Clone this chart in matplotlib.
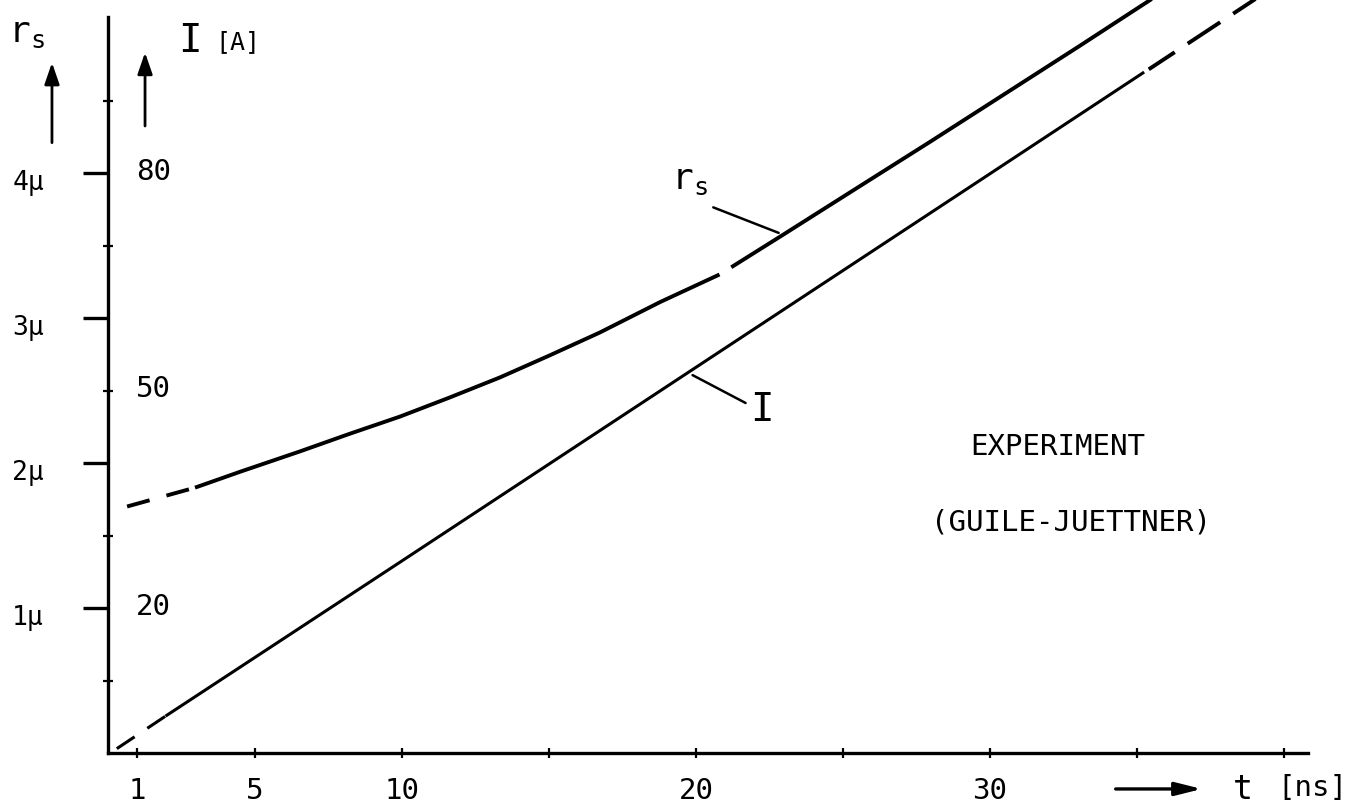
import matplotlib
matplotlib.use('Agg')
import matplotlib.pyplot as plt

# time axis, ns
t_ticks = [1, 5, 10, 15, 20, 25, 30, 35, 40]
t_ticklabels = ['1', '5', '10', '', '20', '', '30', '', '']

# left scale r_s in micrometre, right scale I in ampere (1 um <-> 20 A)
r_major = [1, 2, 3, 4]
r_minor = [0.5, 1.5, 2.5, 3.5, 4.5]
r_labels = ['1\u03bc', '2\u03bc', '3\u03bc', '4\u03bc']
I_ticklabels = [20, 50, 80]

# r_s curve (dashed start, solid, short break, solid)
rs_dash_t = [0.65, 2.96]
rs_dash_r = [1.70, 1.83]
rs_t1 = [2.96, 4.5, 6.53, 8.2, 9.93, 11.6, 13.33, 15.0, 16.73, 18.78, 20.8]
rs_r1 = [1.83, 1.94, 2.08, 2.20, 2.32, 2.45, 2.59, 2.74, 2.90, 3.11, 3.30]
rs_t2 = [21.2, 22.93, 25.58, 28.0, 30.0, 33.0, 35.5]
rs_r2 = [3.35, 3.57, 3.91, 4.22, 4.48, 4.87, 5.20]

# current I
I_dash_t = [0.3, 2.0]
I_dash = [0.6, 5.2]
I_t = [2.0, 10.0, 20.0, 30.0, 35.2]
I_val = [5.2, 26.5, 53.2, 79.9, 93.8]
I_tail_t = [35.4, 40.0]
I_tail = [94.3, 106.6]

FONT = 'DejaVu Sans Mono'
plt.rcParams['font.family'] = FONT

fig = plt.figure(figsize=(13.63, 8.12), dpi=100)
ax = fig.add_axes([0, 0, 1, 1])
ax.set_xlim(-3.673, 42.687)
ax.set_ylim(-0.4, 5.2)
ax2 = ax.twinx()
ax2.set_ylim(-8, 104)
ax2.axis('off')

for s in ['top', 'right']:
    ax.spines[s].set_visible(False)
ax.spines['left'].set_position(('data', 0))
ax.spines['bottom'].set_position(('data', 0))
ax.spines['left'].set_bounds(0, 5.076)
ax.spines['bottom'].set_bounds(0, 40.8)
ax.spines['left'].set_linewidth(2.4)
ax.spines['bottom'].set_linewidth(2.4)

ax.set_xticks(t_ticks)
ax.set_xticklabels([])
ax.tick_params(axis='x', direction='inout', length=7, width=1.6)
ax.set_yticks(r_major)
ax.set_yticklabels([])
ax.set_yticks(r_minor, minor=True)
ax.tick_params(axis='y', which='major', direction='out', length=18, width=2.4)
ax.tick_params(axis='y', which='minor', direction='inout', length=7, width=1.6)

for t, lab in zip(t_ticks, t_ticklabels):
    if lab:
        ax.text(t, -0.255, lab, ha='center', va='center', fontsize=21)
for r, lab in zip(r_major, r_labels):
    ax.text(-2.72, r - 0.06, lab, ha='center', va='center', fontsize=19)
for v in I_ticklabels:
    ax2.text(1.56, v + 0.3, str(v), ha='center', va='center', fontsize=21)

# curves
ax.plot(rs_dash_t, rs_dash_r, color='black', lw=2.8, ls=(0, (6, 4.5)))
ax.plot(rs_t1, rs_r1, color='black', lw=2.8, solid_capstyle='butt')
ax.plot(rs_t2, rs_r2, color='black', lw=2.8, solid_capstyle='butt')
ax2.plot(I_dash_t, I_dash, color='black', lw=2.2, ls=(0, (7, 5)))
ax2.plot(I_t, I_val, color='black', lw=2.2)
ax2.plot(I_tail_t, I_tail, color='black', lw=2.8, ls=(2, (10, 4)))

# curve labels with pointer lines
ax.annotate('', xy=(22.9, 3.58), xytext=(20.5, 3.77),
            arrowprops=dict(arrowstyle='-', lw=1.8, color='black'))
ax.text(19.76, 3.96, r'$\mathregular{r_s}$', ha='center', va='center', fontsize=26)
ax2.annotate('', xy=(19.8, 52.3), xytext=(21.77, 48.1),
             arrowprops=dict(arrowstyle='-', lw=1.8, color='black'))
ax2.text(22.24, 47.4, 'I', ha='center', va='center', fontsize=28)

# axis titles with arrows
head = '-|>,head_length=1.3,head_width=0.45'
ax.annotate('', xy=(-1.905, 4.78), xytext=(-1.905, 4.19),
            arrowprops=dict(arrowstyle=head, lw=2.0, color='black'))
ax.text(-2.76, 4.97, r'$\mathregular{r_s}$', ha='center', va='center', fontsize=26)
ax2.annotate('', xy=(1.26, 97.0), xytext=(1.26, 86.1),
             arrowprops=dict(arrowstyle=head, lw=2.0, color='black'))
ax2.text(2.79, 98.3, 'I', ha='center', va='center', fontsize=28)
ax2.text(4.42, 98.2, '[A]', ha='center', va='center', fontsize=18)

ax.annotate('', xy=(37.3, -0.248), xytext=(34.18, -0.248),
            arrowprops=dict(arrowstyle='-|>,head_length=1.6,head_width=0.4',
                            lw=2.4, color='black'))
ax.text(38.6, -0.245, 't', ha='center', va='center', fontsize=24)
ax.text(40.95, -0.235, '[ns]', ha='center', va='center', fontsize=21)

ax.text(32.31, 2.117, 'EXPERIMENT', ha='center', va='center', fontsize=21)
ax.text(32.76, 1.60, '(GUILE-JUETTNER)', ha='center', va='center', fontsize=21)

fig.savefig('out.png', dpi=100)
